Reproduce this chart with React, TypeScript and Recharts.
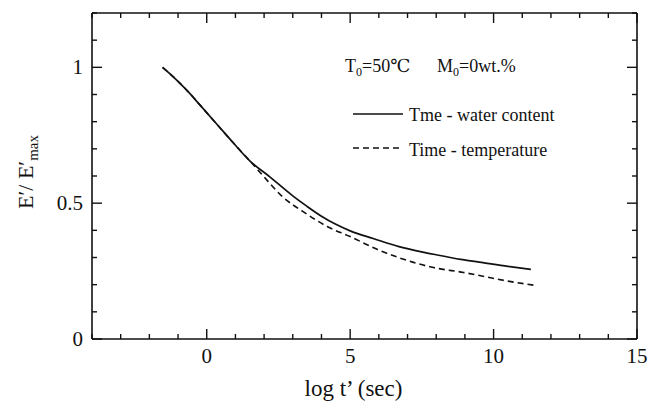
import React from 'react';
import { LineChart, Line, XAxis, YAxis, ReferenceLine } from 'recharts';

// log t' (sec) vs E'/E'max
const waterLogT = [-1.54, -1.29, -0.94, -0.6, -0.3, 0.4, 0.9, 1.5, 2.2, 3.0, 3.5, 4.0, 4.5, 5.0, 5.8, 6.7, 7.1, 8.0, 8.85, 9.5, 10.5, 11.3];
const waterRatio = [1.0, 0.977, 0.942, 0.905, 0.869, 0.785, 0.725, 0.656, 0.597, 0.527, 0.488, 0.452, 0.422, 0.398, 0.37, 0.34, 0.33, 0.31, 0.293, 0.283, 0.267, 0.256];

const tempLogT = [-1.54, -1.29, -0.94, -0.6, -0.3, 0.4, 0.9, 1.5, 1.97, 2.66, 3.36, 4.2, 5.0, 5.94, 6.68, 7.9, 8.95, 10.5, 11.4];
const tempRatio = [1.0, 0.977, 0.942, 0.905, 0.869, 0.785, 0.725, 0.656, 0.6, 0.522, 0.469, 0.414, 0.377, 0.33, 0.3, 0.263, 0.245, 0.213, 0.198];

const xTicks = [-4, -3, -2, -1, 0, 1, 2, 3, 4, 5, 6, 7, 8, 9, 10, 11, 12, 13, 14, 15];
const xLabels = [0, 5, 10, 15];
const yTicks = [0, 0.1, 0.2, 0.3, 0.4, 0.5, 0.6, 0.7, 0.8, 0.9, 1, 1.1, 1.2];
const yLabels = [0, 0.5, 1];

const X_DOMAIN = [-4, 15];
const Y_DOMAIN = [0, 1.2];

const waterData = waterLogT.map((t, i) => ({ t, r: waterRatio[i] }));
const tempData = tempLogT.map((t, i) => ({ t, r: tempRatio[i] }));

const FONT = '"Liberation Serif", "DejaVu Serif", serif';
const INK = '#111';

const W = 641;
const H = 395;
const M = { top: 4, right: 11, left: 84, bottom: 64 };
const plotW = W - M.left - M.right - 1;
const plotH = H - M.top - M.bottom - 1;

// tick lengths in px, turned into data units so the library scales place them
const pxToDx = (px: number) => ((X_DOMAIN[1] - X_DOMAIN[0]) / plotW) * px;
const pxToDy = (px: number) => ((Y_DOMAIN[1] - Y_DOMAIN[0]) / plotH) * px;

const isLabel = (list: number[], v: number) => list.some((l) => Math.abs(l - v) < 1e-6);
const tickLen = (list: number[], v: number) => (isLabel(list, v) ? 10 : 5);

const bottomLabel = (p: any) => {
  const { x, y, payload } = p;
  if (!isLabel(xLabels, payload.value)) return <g key={`b${payload.value}`} />;
  return (
    <text key={`b${payload.value}`} x={x} y={y + 24} textAnchor="middle" fontFamily={FONT} fontSize={21} fill={INK}>
      {payload.value}
    </text>
  );
};

const leftLabel = (p: any) => {
  const { x, y, payload } = p;
  if (!isLabel(yLabels, payload.value)) return <g key={`l${payload.value}`} />;
  return (
    <text key={`l${payload.value}`} x={x - 9} y={y + 7} textAnchor="end" fontFamily={FONT} fontSize={21} fill={INK}>
      {payload.value}
    </text>
  );
};

const XTitle = ({ viewBox }: any) => (
  <text x={viewBox.x + viewBox.width / 2 - 11} y={viewBox.y + 57} textAnchor="middle" fontFamily={FONT} fontSize={23} fill={INK}>
    log t’ (sec)
  </text>
);

const YTitle = ({ viewBox }: any) => {
  const cx = viewBox.x + 25;
  const cy = 164;
  return (
    <text x={cx} y={cy} transform={`rotate(-90 ${cx} ${cy})`} textAnchor="middle" fontFamily={FONT} fontSize={22} fill={INK}>
      E′/ E′<tspan fontSize={15} dy={5}>max</tspan>
    </text>
  );
};

const frame = { stroke: INK, strokeWidth: 1.6 };

// inward tick marks on all four sides of the frame
const tickMarks = [
  ...xTicks.map((v) => {
    const d = pxToDy(tickLen(xLabels, v));
    return [
      { key: `xb${v}`, seg: [{ x: v, y: Y_DOMAIN[0] }, { x: v, y: Y_DOMAIN[0] + d }] },
      { key: `xt${v}`, seg: [{ x: v, y: Y_DOMAIN[1] }, { x: v, y: Y_DOMAIN[1] - d }] },
    ];
  }),
  ...yTicks.map((v) => {
    const d = pxToDx(tickLen(yLabels, v));
    return [
      { key: `yl${v}`, seg: [{ x: X_DOMAIN[0], y: v }, { x: X_DOMAIN[0] + d, y: v }] },
      { key: `yr${v}`, seg: [{ x: X_DOMAIN[1], y: v }, { x: X_DOMAIN[1] - d, y: v }] },
    ];
  }),
].flat();

export default function App() {
  return (
    <div style={{ position: 'relative', width: W, height: H }}>
      <LineChart width={W} height={H} margin={{ top: M.top, right: M.right, bottom: 0, left: 0 }}>
        <XAxis
          dataKey="t"
          type="number"
          domain={X_DOMAIN}
          ticks={xTicks}
          interval={0}
          allowDuplicatedCategory={false}
          height={M.bottom}
          tickSize={0}
          tickMargin={0}
          tickLine={false}
          tick={bottomLabel}
          axisLine={frame}
          label={<XTitle />}
        />
        <XAxis
          xAxisId="top"
          orientation="top"
          dataKey="t"
          type="number"
          domain={X_DOMAIN}
          ticks={xTicks}
          height={1}
          tick={false}
          tickLine={false}
          axisLine={frame}
        />
        <YAxis
          type="number"
          domain={Y_DOMAIN}
          ticks={yTicks}
          interval={0}
          width={M.left}
          tickSize={0}
          tickMargin={0}
          tickLine={false}
          tick={leftLabel}
          axisLine={frame}
          label={<YTitle />}
        />
        <YAxis
          yAxisId="right"
          orientation="right"
          type="number"
          domain={Y_DOMAIN}
          ticks={yTicks}
          width={1}
          tick={false}
          tickLine={false}
          axisLine={frame}
        />
        {tickMarks.map((m) => (
          <ReferenceLine key={m.key} segment={m.seg} stroke={INK} strokeWidth={1.4} ifOverflow="visible" />
        ))}
        <Line
          data={tempData}
          dataKey="r"
          type="monotone"
          stroke={INK}
          strokeWidth={1.6}
          strokeDasharray="6 4"
          dot={false}
          isAnimationActive={false}
        />
        <Line
          data={waterData}
          dataKey="r"
          type="monotone"
          stroke={INK}
          strokeWidth={1.7}
          dot={false}
          isAnimationActive={false}
        />
      </LineChart>
      {/* annotation + legend inside the plot */}
      <svg width={W} height={H} style={{ position: 'absolute', left: 0, top: 0, pointerEvents: 'none' }}>
        <g fontFamily={FONT} fontSize={18} fill={INK}>
          <text x={337} y={64}>
            T<tspan fontSize={12} dy={4}>0</tspan>
            <tspan dy={-4}>=50℃</tspan>
          </text>
          <text x={429} y={64}>
            M<tspan fontSize={12} dy={4}>0</tspan>
            <tspan dy={-4}>=0wt.%</tspan>
          </text>
          <line x1={345} x2={395} y1={106} y2={106} stroke={INK} strokeWidth={1.6} />
          <text x={401} y={113}>Tme - water content</text>
          <line x1={345} x2={395} y1={140} y2={140} stroke={INK} strokeWidth={1.6} strokeDasharray="6 4" />
          <text x={401} y={148}>Time - temperature</text>
        </g>
      </svg>
    </div>
  );
}
